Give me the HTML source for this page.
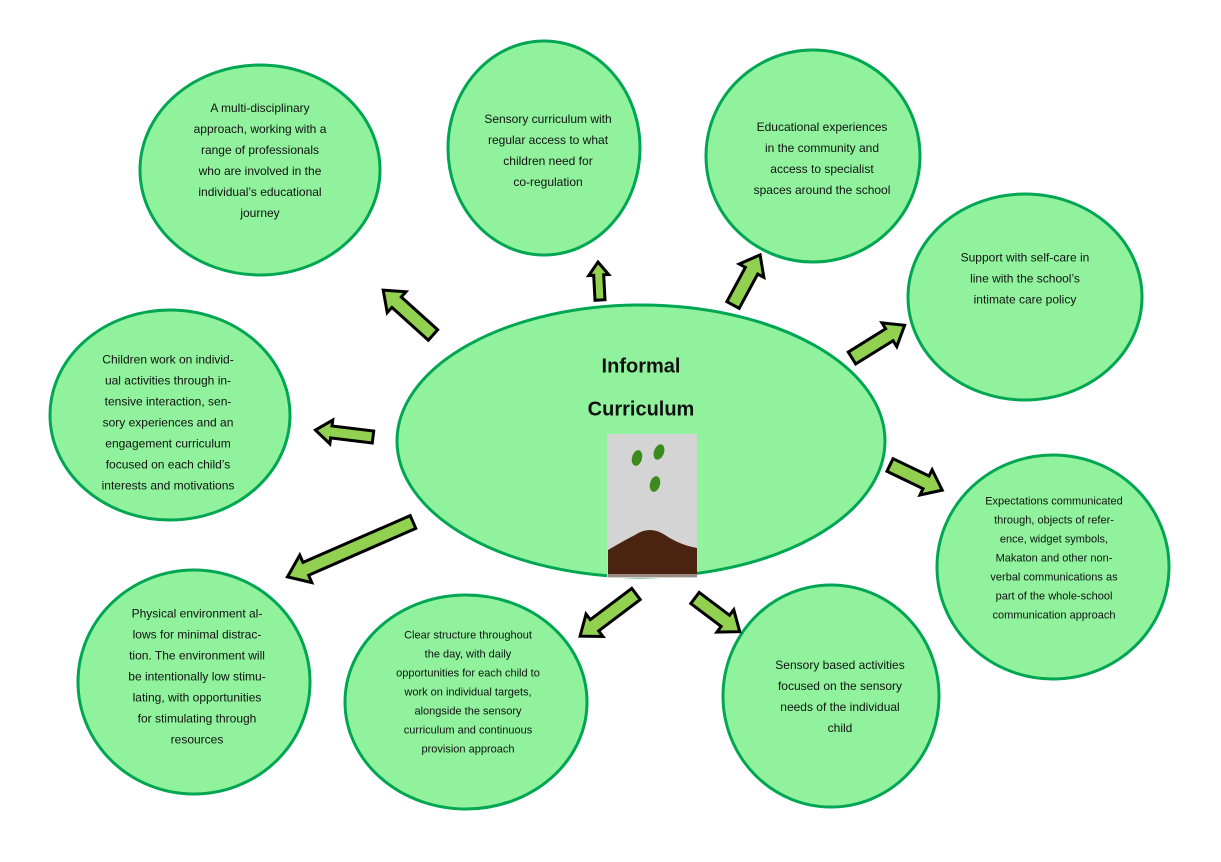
<!DOCTYPE html>
<html><head><meta charset="utf-8"><style>
body{margin:0;width:1221px;height:862px;background:#fff;position:relative;overflow:hidden;font-family:"Liberation Sans",sans-serif;}
svg{position:absolute;left:0;top:0}
.t{position:absolute;text-align:center;font-size:12px;line-height:21px;color:#111;transform:translate(-50%,-50%);}
.s{font-size:11px;line-height:19px}
</style></head><body>
<svg width="1221" height="862">
<g fill="#90f29d" stroke="#00a651" stroke-width="3">
<ellipse cx="260" cy="170" rx="120" ry="105"/>
<ellipse cx="544" cy="148" rx="96" ry="107"/>
<ellipse cx="813" cy="156" rx="107" ry="106"/>
<ellipse cx="1025" cy="297" rx="117" ry="103"/>
<ellipse cx="1053" cy="567" rx="116" ry="112"/>
<ellipse cx="831" cy="696" rx="108" ry="111"/>
<ellipse cx="466" cy="702" rx="121" ry="107"/>
<ellipse cx="194" cy="682" rx="116" ry="112"/>
<ellipse cx="170" cy="415" rx="120" ry="105"/>
<ellipse cx="641" cy="441" rx="244" ry="136"/>
</g>
<g fill="#92d050" stroke="#000" stroke-width="3" stroke-linejoin="miter">
<polygon transform="translate(433,335) rotate(222)" points="0,-7 49,-7 49,-14 67,0 49,14 49,7 0,7"/>
<polygon transform="translate(600,300) rotate(267)" points="0,-5 25,-5 25,-10 38,0 25,10 25,5 0,5"/>
<polygon transform="translate(733,305) rotate(-61.6)" points="0,-7 39,-7 39,-14 57,0 39,14 39,7 0,7"/>
<polygon transform="translate(852,358) rotate(-31.9)" points="0,-7 44,-7 44,-14 62,0 44,14 44,7 0,7"/>
<polygon transform="translate(890,465) rotate(25.7)" points="0,-7 40,-7 40,-14 58,0 40,14 40,7 0,7"/>
<polygon transform="translate(695,598) rotate(37)" points="0,-7 38,-7 38,-14 56,0 38,14 38,7 0,7"/>
<polygon transform="translate(636,594) rotate(143)" points="0,-7 52,-7 52,-14 70,0 52,14 52,7 0,7"/>
<polygon transform="translate(413,522) rotate(156.4)" points="0,-7 117,-7 117,-15 137,0 117,15 117,7 0,7"/>
<polygon transform="translate(373,437) rotate(186.9)" points="0,-6 42,-6 42,-12 58,0 42,12 42,6 0,6"/>
</g>
<rect x="607" y="434" width="90" height="144" fill="#d4d4d4"/>
<g fill="#3d8a1e">
<ellipse cx="637" cy="458" rx="5" ry="8" transform="rotate(15 637 458)"/>
<ellipse cx="659" cy="452" rx="5" ry="8" transform="rotate(20 659 452)"/>
<ellipse cx="655" cy="484" rx="5" ry="8" transform="rotate(15 655 484)"/>
</g>
<path d="M608 550 Q625 540 635 535 Q650 525 665 535 Q680 545 697 548 L697 574 L608 574 Z" fill="#4a2410"/>
<rect x="608" y="574" width="89" height="3" fill="#9a8a80"/>
</svg>
<div class="t" style="left:260px;top:161px">A multi-disciplinary<br>approach, working with a<br>range of professionals<br>who are involved in the<br>individual’s educational<br>journey</div>
<div class="t" style="left:548px;top:151px">Sensory curriculum with<br>regular access to what<br>children need for<br>co-regulation</div>
<div class="t" style="left:822px;top:159px">Educational experiences<br>in the community and<br>access to specialist<br>spaces around the school</div>
<div class="t" style="left:1025px;top:279px">Support with self-care in<br>line with the school’s<br>intimate care policy</div>
<div class="t s" style="left:1054px;top:559px">Expectations communicated<br>through, objects of refer-<br>ence, widget symbols,<br>Makaton and other non-<br>verbal communications as<br>part of the whole-school<br>communication approach</div>
<div class="t" style="left:840px;top:697px">Sensory based activities<br>focused on the sensory<br>needs of the individual<br>child</div>
<div class="t s" style="left:468px;top:693px">Clear structure throughout<br>the day, with daily<br>opportunities for each child to<br>work on individual targets,<br>alongside the sensory<br>curriculum and continuous<br>provision approach</div>
<div class="t" style="left:197px;top:677px">Physical environment al-<br>lows for minimal distrac-<br>tion. The environment will<br>be intentionally low stimu-<br>lating, with opportunities<br>for stimulating through<br>resources</div>
<div class="t" style="left:168px;top:423px">Children work on individ-<br>ual activities through in-<br>tensive interaction, sen-<br>sory experiences and an<br>engagement curriculum<br>focused on each child’s<br>interests and motivations</div>
<div class="t" style="left:641px;top:367px;font-size:20px;font-weight:bold">Informal</div>
<div class="t" style="left:641px;top:410px;font-size:20px;font-weight:bold">Curriculum</div>
</body></html>
